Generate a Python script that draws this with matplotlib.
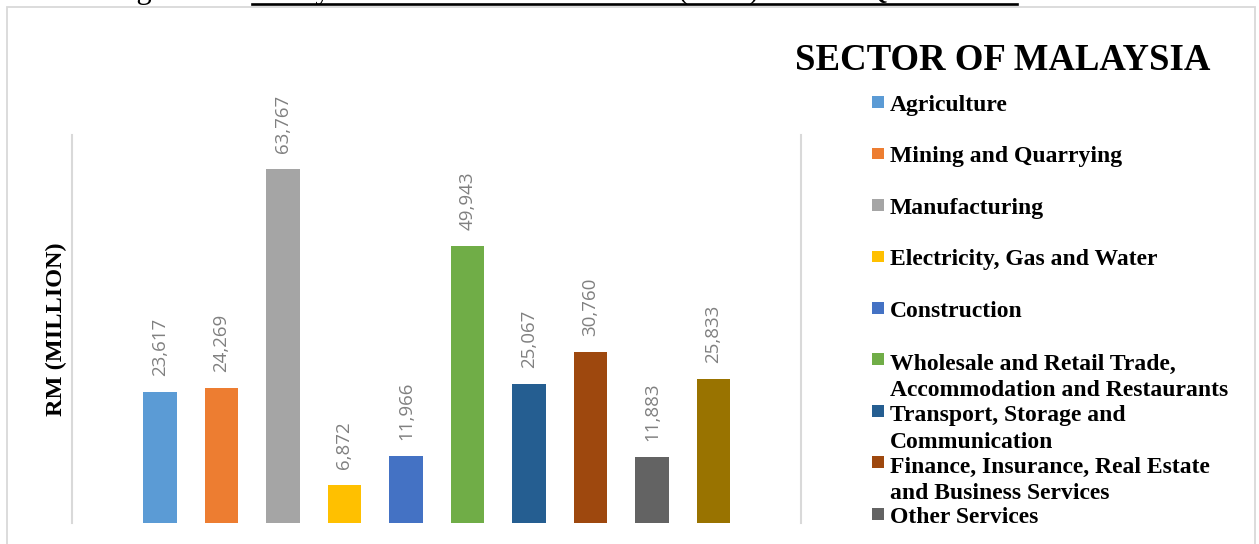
import matplotlib.pyplot as plt
from matplotlib.patches import Rectangle
from matplotlib.lines import Line2D

# GDP by sector, RM million
sectors = ["Agriculture", "Mining and Quarrying", "Manufacturing",
           "Electricity, Gas and Water", "Construction",
           "Wholesale and Retail Trade,\nAccommodation and Restaurants",
           "Transport, Storage and\nCommunication",
           "Finance, Insurance, Real Estate\nand Business Services",
           "Other Services"]
values = [23617, 24269, 63767, 6872, 11966, 49943, 25067, 30760, 11883, 25833]
colors = ["#5B9BD5", "#ED7D31", "#A5A5A5", "#FFC000", "#4472C4",
          "#70AD47", "#255E91", "#9E480E", "#636363", "#997300"]

W, H = 1259, 544
fig = plt.figure(figsize=(W / 100, H / 100), dpi=100)

def fx(x):
    return x / W

def fy(y):
    return 1 - y / H

# caption above the chart, mostly outside the page
fig.text(fx(111), fy(-1.6), "Figure 3.1: Malaysia Gross Domestic Product (GDP) at 2015 Quarter",
         fontsize=22, family="Liberation Serif", va="baseline", ha="left")
fig.add_artist(Line2D([fx(252), fx(1017)], [fy(4), fy(4)], color="black", lw=1.9))

# chart frame
fig.add_artist(Rectangle((fx(7), fy(560)), fx(1255) - fx(7), fy(7) - fy(560),
                         fill=False, edgecolor="#d9d9d9", lw=1.3, clip_on=False))

base_y, top_y = 522.67, 7
ax = fig.add_axes([fx(72), fy(base_y), fx(801) - fx(72), (base_y - top_y) / H])
x = list(range(len(values)))
bars = ax.bar(x, values, width=0.537, color=colors)
ax.bar_label(bars, labels=[f"{v:,}" for v in values], padding=11.5, rotation=90,
             color="#808080", fontsize=13.5, family="Open Sans")
ax.set_xlim(-1.431, 10.423)
ax.set_ylim(0, (base_y - top_y) / 0.005546)
for s in ax.spines.values():
    s.set_visible(False)
ax.set_xticks([])
ax.set_yticks([])
ax.patch.set_alpha(0)

# plot-area side lines
for xe in (-1.431, 10.423):
    ax.axvline(xe, ymin=0, ymax=(base_y - 135) / (base_y - top_y),
               color="#d9d9d9", lw=1.5, clip_on=False)

fig.text(fx(56), fy(329), "RM (MILLION)", rotation=90, ha="center", va="center",
         fontsize=17.5, fontweight="bold", family="Liberation Serif")

# legend title and entries
fig.text(fx(1003), fy(61), "SECTOR OF MALAYSIA", ha="center", va="center",
         fontsize=26.5, fontweight="bold", family="Liberation Serif")
line_h = 28
for i, name in enumerate(sectors):
    bl = 110.7 + 51.5 * i
    n_lines = name.count("\n") + 1
    fig.add_artist(Rectangle((fx(872), fy(bl - 3)), fx(884) - fx(872), fy(bl - 14.7) - fy(bl - 3),
                             color=colors[i], lw=0))
    fig.text(fx(890), fy(bl + line_h * (n_lines - 1)), name, ha="left", va="baseline",
             fontsize=17, fontweight="bold", family="Liberation Serif", linespacing=1.33)

fig.savefig("out.png", dpi=100)
